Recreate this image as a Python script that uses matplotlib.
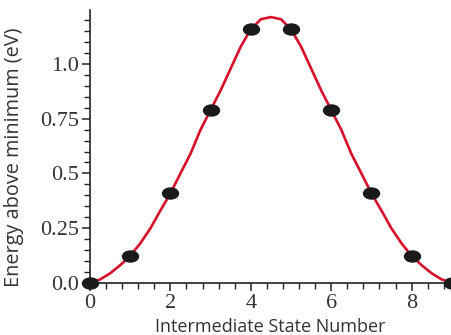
import matplotlib
matplotlib.use('Agg')
import matplotlib.pyplot as plt
from matplotlib.path import Path
from matplotlib.transforms import Affine2D
from matplotlib.ticker import MultipleLocator, FixedLocator, FixedFormatter

# points (state number, energy in eV)
states = [0, 1, 2, 3, 4, 5, 6, 7, 8, 9]
energy = [0.0, 0.123, 0.409, 0.79, 1.159, 1.159, 0.79, 0.409, 0.123, 0.0]

# fitted curve, every 0.25
curve_x = [0, 0.25, 0.5, 0.75, 1, 1.25, 1.5, 1.75, 2, 2.25, 2.5, 2.75, 3, 3.25,
           3.5, 3.75, 4, 4.25, 4.5, 4.75, 5, 5.25, 5.5, 5.75, 6, 6.25, 6.5,
           6.75, 7, 7.25, 7.5, 7.75, 8, 8.25, 8.5, 8.75, 9]
curve_y = [0.0, 0.015, 0.043, 0.08, 0.123, 0.18, 0.248, 0.33, 0.409, 0.5, 0.59,
           0.70, 0.79, 0.88, 0.98, 1.08, 1.159, 1.205, 1.215, 1.205, 1.159,
           1.08, 0.98, 0.88, 0.79, 0.70, 0.59, 0.5, 0.409, 0.33, 0.248, 0.18,
           0.123, 0.08, 0.043, 0.015, 0.0]

yticks = [0.0, 0.25, 0.5, 0.75, 1.0]
ylabels = ['0.0', '0.25', '0.5', '0.75', '1.0']

fig = plt.figure(figsize=(4.51, 3.35), dpi=100)
ax = fig.add_axes([0.1996, 0.156, 0.8004, 0.814])

ax.plot(curve_x, curve_y, color='#d8102a', lw=1.9, zorder=2, clip_on=False,
        solid_joinstyle='round')

# flattened dot marker
ellipse = Path.unit_circle().transformed(Affine2D().scale(1.45, 1.0))
ax.plot(states, energy, ls='none', marker=ellipse, ms=11.5,
        color='#1a1a1a', zorder=3, clip_on=False)

ax.set_xlim(0, 8.98)
ax.set_ylim(0, 1.247)

for s in ['top', 'right']:
    ax.spines[s].set_visible(False)
for s in ['left', 'bottom']:
    ax.spines[s].set_linewidth(1.2)
    ax.spines[s].set_color('#222222')

ax.xaxis.set_major_locator(MultipleLocator(2))
ax.xaxis.set_minor_locator(MultipleLocator(0.4))
ax.yaxis.set_major_locator(FixedLocator(yticks))
ax.yaxis.set_major_formatter(FixedFormatter(ylabels))
ax.yaxis.set_minor_locator(MultipleLocator(0.05))

ax.tick_params(which='major', length=6, width=1.1, color='#222222', pad=2)
ax.tick_params(which='minor', length=4, width=1.0, color='#222222')
for lab in ax.get_xticklabels() + ax.get_yticklabels():
    lab.set_family('Liberation Serif')
    lab.set_fontsize(16)
    lab.set_color('#333333')

ax.set_xlabel('Intermediate State Number', family='Open Sans', fontsize=13,
              color='#333333', labelpad=4)
ax.set_ylabel('Energy above minimum (eV)', family='Open Sans', fontsize=14.3,
              color='#333333')
ax.yaxis.set_label_coords(-0.183, 0.459)

fig.savefig('out.png', dpi=100)
